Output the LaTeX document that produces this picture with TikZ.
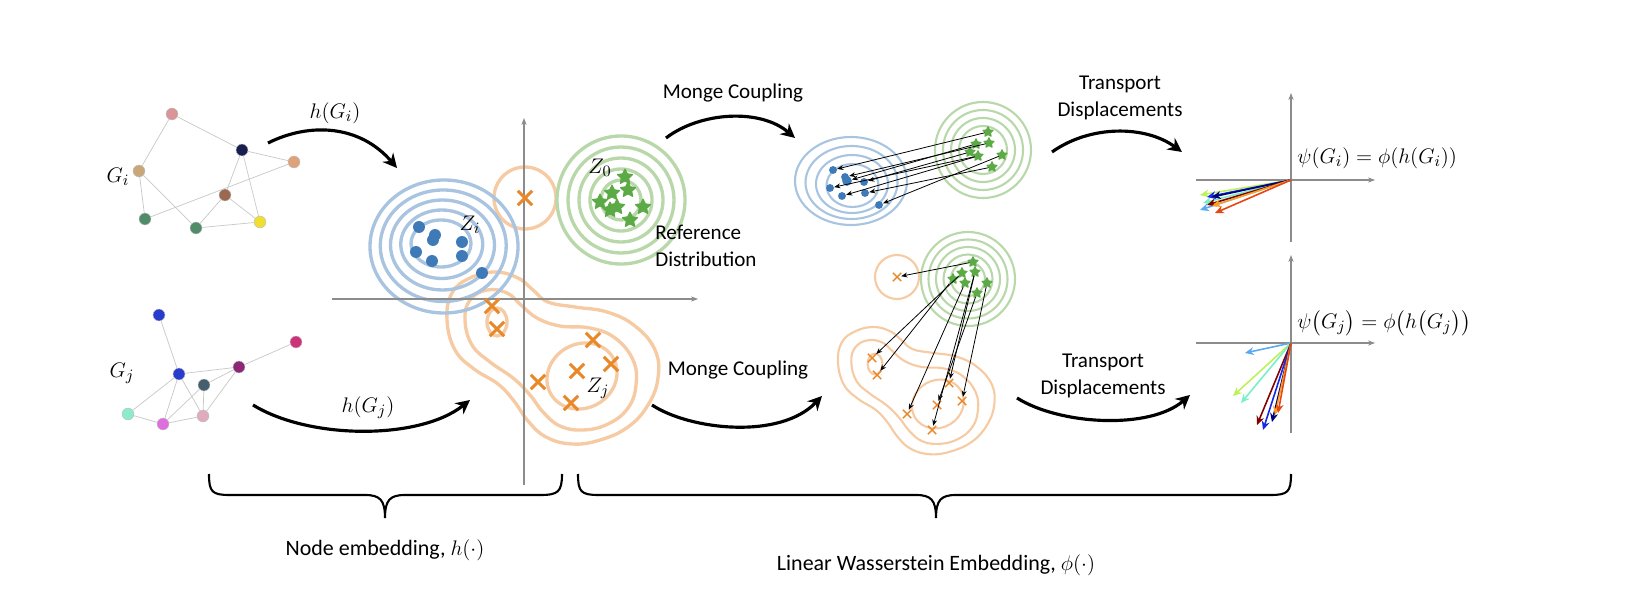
\documentclass[tikz,border=0pt]{standalone}
\usepackage{fontspec}
\setmainfont{Carlito}
\usepackage{amsmath}
\usetikzlibrary{arrows.meta,shapes.geometric,shapes.misc}

\definecolor{ctrblue}{RGB}{168,196,224}
\definecolor{ctrorange}{RGB}{246,202,162}
\definecolor{ctrgreen}{RGB}{184,216,170}
\definecolor{dotblue}{RGB}{62,122,184}
\definecolor{xorange}{RGB}{232,136,40}
\definecolor{stargreen}{RGB}{92,170,70}
\definecolor{axisgray}{RGB}{140,140,140}
% node colours of the two graphs
\definecolor{gpink}{RGB}{218,150,150}
\definecolor{gnavy}{RGB}{25,30,80}
\definecolor{gpeach}{RGB}{222,162,120}
\definecolor{gtan}{RGB}{200,168,120}
\definecolor{gbrown}{RGB}{155,105,80}
\definecolor{ggreen}{RGB}{80,140,105}
\definecolor{gyellow}{RGB}{240,222,50}
\definecolor{gblue}{RGB}{40,60,205}
\definecolor{gmagenta}{RGB}{205,50,120}
\definecolor{gpurple}{RGB}{140,40,120}
\definecolor{gslate}{RGB}{70,95,110}
\definecolor{gmint}{RGB}{140,235,200}
\definecolor{gviolet}{RGB}{222,110,222}
\definecolor{gpale}{RGB}{222,172,190}
% vector colours
\definecolor{vlgreen}{RGB}{190,240,90}
\definecolor{vlblue}{RGB}{90,170,240}
\definecolor{vblue}{RGB}{20,40,230}
\definecolor{vnavy}{RGB}{0,0,120}
\definecolor{vdred}{RGB}{130,0,0}
\definecolor{vorange}{RGB}{250,160,30}
\definecolor{vred}{RGB}{230,70,20}
\definecolor{vmint}{RGB}{120,240,200}

\tikzset{
  gnode/.style={circle, inner sep=0pt, minimum size=6.8pt, fill=#1, draw=black!25, line width=0.25pt},
  gedge/.style={draw=black!22, line width=0.4pt},
  ctrb/.style={draw=ctrblue, line width=1.9pt},
  ctro/.style={draw=ctrorange, line width=1.9pt},
  ctrg/.style={draw=ctrgreen, line width=1.9pt},
  ctrbs/.style={draw=ctrblue, line width=1.2pt},
  ctros/.style={draw=ctrorange, line width=1.2pt},
  ctrgs/.style={draw=ctrgreen, line width=1.2pt},
  bdot/.style={circle, fill=dotblue, inner sep=0pt, minimum size=#1},
  xmark/.style={cross out, draw=xorange, inner sep=0pt, minimum size=6.5pt, line width=1.7pt},
  xsmall/.style={cross out, draw=xorange, inner sep=0pt, minimum size=4pt, line width=0.8pt},
  gstar/.style={star, star points=5, star point ratio=2, fill=stargreen, draw=stargreen,
    line join=round, line width=0.6pt, inner sep=0pt, minimum size=#1},
  coup/.style={-{Stealth[length=3.5pt,width=2.8pt]}, line width=0.45pt},
  vec/.style={-{Stealth[length=5pt,width=4.5pt]}, line width=0.9pt, draw=#1},
  axis/.style={draw=axisgray, line width=0.6pt, -{Stealth[length=4pt,width=3pt]}},
  bigarrow/.style={-{Stealth[length=8pt,width=8pt]}, line width=1.8pt},
  lbl/.style={font=\fontsize{12}{15.3}\selectfont, inner sep=0pt, align=center},
  mlbl/.style={font=\fontsize{12.5}{15}\selectfont, inner sep=0pt},
  blbl/.style={font=\fontsize{12.5}{15}\selectfont, inner sep=0pt},
  brc/.style={line width=1.2pt}
}

% contour levels of Z_j (drawn again, scaled, in the coupling panel)
\newcommand{\orangeblob}[1]{%
  \draw[#1] plot[smooth cycle, tension=0.7] coordinates {(447,320) (452,293) (470,278) (495,272)
    (518,278) (533,290) (548,302) (575,307) (607,312) (635,326) (655,350) (658,378) (648,405)
    (628,427) (600,440) (572,444) (546,437) (528,421) (514,401) (498,384) (474,369) (455,350)};
  \draw[#1] plot[smooth cycle, tension=0.7] coordinates {(465,320) (470,300) (487,290) (507,293)
    (521,305) (537,318) (560,326) (590,328) (615,338) (633,360) (636,385) (628,408) (608,424)
    (583,430) (560,426) (543,412) (530,395) (513,378) (490,362) (472,345)};
  \draw[#1] (497,322) ellipse [x radius=10, y radius=14];
  \draw[#1, shift={(582,376)}, rotate=30] (0,0) ellipse [x radius=36, y radius=32];
}

\begin{document}
\begin{tikzpicture}[x=0.02cm, y=-0.02cm]
	\useasboundingbox (0,0) rectangle (1626,604);

	% graph G_i
	\node[gnode=gpink] (gi1) at (172,114) {};
	\node[gnode=gnavy] (gi2) at (242,150) {};
	\node[gnode=gpeach] (gi3) at (294,162) {};
	\node[gnode=gtan] (gi4) at (139,171) {};
	\node[gnode=gbrown] (gi5) at (225,195) {};
	\node[gnode=ggreen] (gi6) at (145,219) {};
	\node[gnode=ggreen] (gi7) at (196,228) {};
	\node[gnode=gyellow] (gi8) at (260,222) {};
	\foreach \a/\b in {gi1/gi4, gi1/gi2, gi2/gi3, gi2/gi5, gi2/gi8, gi4/gi6, gi4/gi7,
		gi6/gi3, gi5/gi7, gi5/gi8, gi7/gi8}
		\draw[gedge] (\a) -- (\b);
	\node[mlbl] (gil) at (118,177) {$G_i$};

	% graph G_j
	\node[gnode=gblue] (gj1) at (159,315) {};
	\node[gnode=gmagenta] (gj2) at (296,342) {};
	\node[gnode=gpurple] (gj3) at (239,367) {};
	\node[gnode=gblue] (gj4) at (179,374) {};
	\node[gnode=gslate] (gj5) at (204,385) {};
	\node[gnode=gmint] (gj6) at (128,414) {};
	\node[gnode=gviolet] (gj7) at (163,424) {};
	\node[gnode=gpale] (gj8) at (203,416) {};
	\foreach \a/\b in {gj1/gj4, gj4/gj3, gj3/gj2, gj4/gj6, gj4/gj7, gj4/gj8, gj5/gj3,
		gj5/gj7, gj5/gj8, gj3/gj8, gj6/gj7, gj7/gj8}
		\draw[gedge] (\a) -- (\b);
	\node[mlbl] (gjl) at (122,373) {$G_j$};

	% node embedding panel
	\orangeblob{ctro}
	\draw[ctro] (525,198) circle [radius=31];
	\foreach \i in {0,...,4}
		\draw[ctrb] ({444-0.75*\i},{246.5-0.75*\i}) ellipse [x radius={74-11*\i}, y radius={66.5-10.75*\i}];
	\foreach \r in {64,53,42,31,20}
		\draw[ctrg] (621,200) circle [radius=\r];
	\draw[axis] (524,485) -- (524,118);
	\draw[axis] (332,299) -- (698,299);
	\foreach \x/\y [count=\k] in {419/227, 435/235, 433/240, 462/242, 416/252, 432/261, 462/256, 482/273}
		\node[bdot=6.8pt] (zi\k) at (\x,\y) {};
	\foreach \x/\y [count=\k] in {625/177, 628/190, 612/193, 600/202, 617/207, 610/210, 643/207, 630/220}
		\node[gstar=9pt] (zo\k) at (\x,\y) {};
	\foreach \x/\y [count=\k] in {525/198, 492/306, 497/329, 593/340, 577/371, 611/364, 538/382, 571/403}
		\node[xmark] (zj\k) at (\x,\y) {};
	\node[mlbl] (zil) at (470,225) {$Z_i$};
	\node[mlbl] (zol) at (600,168) {$Z_0$};
	\node[mlbl] (zjl) at (598,388) {$Z_j$};
	\node[lbl, align=left, anchor=west] (refd) at (655,246) {Reference\\Distribution};

	% embedding arrows
	\coordinate (hia) at (268,143);
	\coordinate (hib) at (397,168);
	\draw[bigarrow] (hia) .. controls (310,122) and (360,125) .. (hib);
	\node[mlbl] (hil) at (335,113) {$h(G_i)$};
	\coordinate (hja) at (253,405);
	\coordinate (hjb) at (470,400);
	\draw[bigarrow] (hja) .. controls (310,440) and (420,440) .. (hjb);
	\node[mlbl] (hjl) at (368,408) {$h(G_j)$};

	% Monge coupling, Z_i
	\coordinate (mta) at (666,138);
	\coordinate (mtb) at (795,138);
	\draw[bigarrow] (mta) .. controls (700,112) and (760,108) .. (mtb);
	\node[lbl] (mtl) at (733,93) {Monge Coupling};
	\foreach \i in {0,...,3}
		\draw[ctrbs] ({851+0.5*\i},{181+1.5*\i}) ellipse [x radius={56-10*\i}, y radius={44-7.5*\i}];
	\foreach \r in {48,40,32,24}
		\draw[ctrgs] (983,150) circle [radius=\r];
	\foreach \x/\y [count=\k] in {833/170, 845/177, 864/182, 830/188, 842/196, 865/193, 879/205}
		\node[bdot=4.5pt] (tb\k) at (\x,\y) {};
	\node[bdot=5.5pt] (tb8) at (847,181) {};
	\foreach \x/\y [count=\k] in {988/132, 976/144, 989/143, 970/152, 978/156, 1002/155, 992/167}
		\node[gstar=6pt] (ts\k) at (\x,\y) {};
	\foreach \a/\b in {ts1/tb1, ts3/tb2, ts2/tb8, ts4/tb3, ts5/tb4, ts5/tb5, ts6/tb7, ts7/tb6}
		\draw[coup] (\a) -- (\b);

	% Monge coupling, Z_j
	\coordinate (mba) at (652,405);
	\coordinate (mbb) at (822,396);
	\draw[bigarrow] (mba) .. controls (690,430) and (780,440) .. (mbb);
	\node[lbl] (mbl) at (738,370) {Monge Coupling};
	\begin{scope}[shift={(838,327)}, scale=0.74, shift={(-447,-272)}]
		\orangeblob{ctros}
	\end{scope}
	\draw[ctros] (897,277) circle [radius=22];
	\foreach \r in {47,39.5,32,24.5,17}
		\draw[ctrgs] (968,279) circle [radius=\r];
	\foreach \x/\y [count=\k] in {897/277, 872/358, 877/375, 949/383, 962/401, 937/405, 907/414, 932/430}
		\node[xsmall] (bx\k) at (\x,\y) {};
	\foreach \x/\y [count=\k] in {973/262, 962/273, 975/272, 953/279, 965/283, 987/283, 977/293}
		\node[gstar=6pt] (bs\k) at (\x,\y) {};
	\foreach \a/\b in {bs1/bx1, bs2/bx2, bs4/bx3, bs3/bx4, bs6/bx5, bs7/bx6, bs5/bx7, bs3/bx8}
		\draw[coup] (\a) -- (\b);

	% transport displacements
	\coordinate (tta) at (1052,152);
	\coordinate (ttb) at (1182,152);
	\draw[bigarrow] (tta) .. controls (1090,125) and (1145,125) .. (ttb);
	\node[lbl] (ttl) at (1120,98) {Transport\\Displacements};
	\coordinate (tba) at (1017,398);
	\coordinate (tbb) at (1190,395);
	\draw[bigarrow] (tba) .. controls (1060,425) and (1150,430) .. (tbb);
	\node[lbl] (tbl) at (1103,376) {Transport\\Displacements};

	% embeddings psi(G_i), psi(G_j)
	\coordinate (oi) at (1291,180);
	\draw[axis] (1291,242) -- (1291,93);
	\draw[axis] (1196,180) -- (1375,180);
	\foreach \c/\x/\y [count=\k] in {vlgreen/1200/195, vlblue/1200/210, vmint/1203/203, vblue/1207/197,
		vnavy/1212/197, vdred/1207/205, vorange/1212/206, vred/1215/213}
	{
		\coordinate (vi\k) at (\x,\y);
		\draw[vec=\c] (oi) -- (vi\k);
	}
	\node[mlbl, anchor=west] (psii) at (1297,158) {$\psi(G_i)=\phi(h(G_i))$};
	\coordinate (oj) at (1291,343);
	\draw[axis] (1291,433) -- (1291,255);
	\draw[axis] (1196,343) -- (1375,343);
	\foreach \c/\x/\y [count=\k] in {vlblue/1245/353, vlgreen/1233/396, vmint/1241/403, vdred/1257/425,
		vblue/1263/430, vnavy/1272/422, vorange/1275/415, vred/1278/413}
	{
		\coordinate (vj\k) at (\x,\y);
		\draw[vec=\c] (oj) -- (vj\k);
	}
	\node[mlbl, anchor=west] (psij) at (1297,323) {$\psi\bigl(G_j\bigr)=\phi\bigl(h\bigl(G_j\bigr)\bigr)$};

	% braces
	\draw[brc] (209,474) .. controls (209,492) and (212,495) .. (230,495) -- (365,495)
		.. controls (380,495) and (385,500) .. (385,518)
		.. controls (385,500) and (390,495) .. (405,495) -- (540,495)
		.. controls (558,495) and (562,492) .. (562,474);
	\node[blbl] (nel) at (385,550) {Node embedding, $h(\cdot)$};
	\draw[brc] (578,474) .. controls (578,492) and (581,495) .. (599,495) -- (916,495)
		.. controls (931,495) and (936,500) .. (936,518)
		.. controls (936,500) and (941,495) .. (956,495) -- (1270,495)
		.. controls (1288,495) and (1291,492) .. (1291,474);
	\node[blbl] (lwl) at (936,565) {Linear Wasserstein Embedding, $\phi(\cdot)$};
\end{tikzpicture}
\end{document}
